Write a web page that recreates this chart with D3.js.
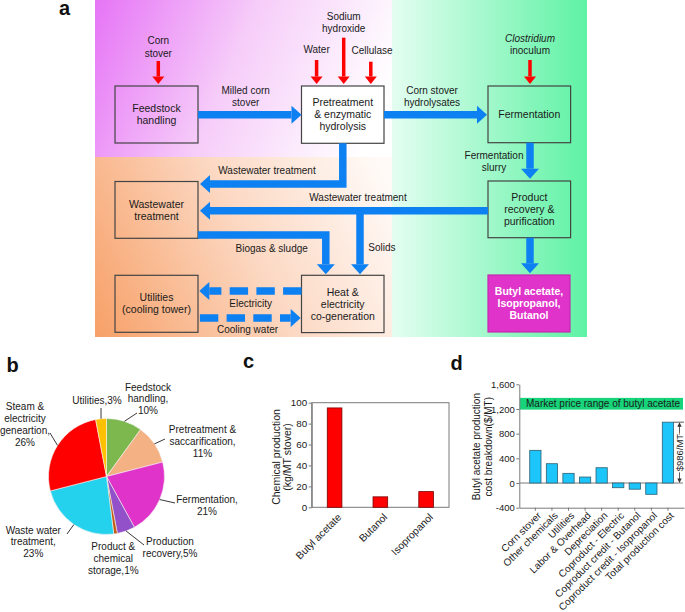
<!DOCTYPE html>
<html>
<head>
<meta charset="utf-8">
<script src="https://cdn.jsdelivr.net/npm/d3@7"></script>
<style>
  body { margin: 0; background: #fff; }
  svg { display: block; font-family: Arial, "Liberation Sans", sans-serif; }
</style>
</head>
<body>
<svg id="fig" width="685" height="612"></svg>
<script>
// ---- data: panel b (share of cost by area) ----
const pieNames = ["Feedstock handling", "Pretreatment & saccarification", "Fermentation",
  "Production recovery", "Product & chemical storage", "Waste water treatment",
  "Steam & electricity geneartion", "Utilities"];
const pieShares = [10, 11, 21, 5, 1, 23, 26, 3];
const pieLabelLines = [
  ["Feedstock", "handling,", "10%"],
  ["Pretreatment &", "saccarification,", "11%"],
  ["Fermentation,", "21%"],
  ["Production", "recovery,5%"],
  ["Product &", "chemical", "storage,1%"],
  ["Waste water", "treatment,", "23%"],
  ["Steam &", "electricity", "geneartion,", "26%"],
  ["Utilities,3%"]
];

// ---- data: panel c (chemical production, kg/MT stover) ----
const chemNames = ["Butyl acetate", "Butanol", "Isopropanol"];
const chemValues = [95, 10, 15];
const chemTicks = [0, 20, 40, 60, 80, 100];

// ---- data: panel d (cost breakdown, $/MT) ----
const costNames = ["Corn stover", "Other chemicals", "Utilities", "Labor & Overhead", "Depreciation",
  "Coproduct - Electric", "Coproduct credit - Butanol", "Coproduct credit - Isopropanol", "Total production cost"];
const costValues = [530, 313, 157, 97, 248, -76, -100, -183, 986];
const costTicks = [-400, 0, 400, 800, 1200, 1600];
const marketRange = [1190, 1380];
const totalLabel = "$986/MT";

const INK = "#1a1a1a";
const AXIS = "#7a7a7a";
const BLUE = "#0d80f2";
const RED = "#ff0000";

const svg = d3.select("#fig");
const defs = svg.append("defs");

function linGrad(id, x1, y1, x2, y2, stops) {
  const g = defs.append("linearGradient").attr("id", id)
    .attr("gradientUnits", "userSpaceOnUse")
    .attr("x1", x1).attr("y1", y1).attr("x2", x2).attr("y2", y2);
  stops.forEach(s => g.append("stop").attr("offset", s[0]).attr("stop-color", s[1]));
}

// multi-line centred text, y0 = centre of first line
function lines(g, x, y0, arr, opt = {}) {
  const lh = opt.lh || 12;
  const t = g.append("text")
    .attr("text-anchor", opt.anchor || "middle")
    .attr("font-size", opt.size || 10)
    .attr("fill", opt.color || INK)
    .attr("font-weight", opt.bold ? "bold" : null);
  arr.forEach((s, i) => {
    t.append("tspan").attr("x", x).attr("y", y0 + i * lh).attr("dy", "0.35em")
      .attr("font-style", opt.italicFirst && i === 0 ? "italic" : null)
      .text(s);
  });
  return t;
}

function panelLetter(x, y, s) {
  svg.append("text").attr("x", x).attr("y", y).attr("font-size", 20)
    .attr("font-weight", "bold").attr("fill", "#111").text(s);
}

// ================= panel a : process diagram =================
linGrad("gPink", 95, 0, 375, 120, [[0, "#e674f6"], [0.5, "#f6cdf9"], [1, "#ffffff"]]);
linGrad("gOrange", 95, 337, 392, 190, [[0, "#f7a067"], [0.55, "#fcd9c4"], [1, "#fffaf7"]]);
linGrad("gGreen", 392, 0, 587, 0, [[0, "#e4fef1"], [1, "#5ef2a4"]]);

const pa = svg.append("g");
pa.append("rect").attr("x", 95).attr("y", 0).attr("width", 297).attr("height", 157).attr("fill", "url(#gPink)");
pa.append("rect").attr("x", 95).attr("y", 157).attr("width", 297).attr("height", 180).attr("fill", "url(#gOrange)");
pa.append("rect").attr("x", 392).attr("y", 0).attr("width", 195).attr("height", 337).attr("fill", "url(#gGreen)");

const boxes = [
  { x: 115, y: 86, w: 83, h: 57, lines: ["Feedstock", "handling"] },
  { x: 301.5, y: 86, w: 82.5, h: 57.3, lines: ["Pretreatment", "& enzymatic", "hydrolysis"], fill: "#fff" },
  { x: 488, y: 86, w: 82.6, h: 56.7, lines: ["Fermentation"] },
  { x: 115, y: 181.5, w: 83, h: 56.8, lines: ["Wastewater", "treatment"] },
  { x: 488, y: 181, w: 82.6, h: 56.7, lines: ["Product", "recovery &", "purification"] },
  { x: 115, y: 275.3, w: 83, h: 57, lines: ["Utilities", "(cooling tower)"] },
  { x: 301.5, y: 275.3, w: 82.5, h: 57.3, lines: ["Heat &", "electricity", "co-generation"] },
  { x: 488, y: 275, w: 82, h: 57, lines: ["Butyl acetate,", "Isopropanol,", "Butanol"], fill: "#e033c9", color: "#fff", bold: true, stroke: "#c42aae" }
];

boxes.forEach(b => {
  pa.append("rect").attr("x", b.x).attr("y", b.y).attr("width", b.w).attr("height", b.h)
    .attr("fill", b.fill || "none").attr("stroke", b.stroke || "#444").attr("stroke-width", 1.2);
  const cy = b.y + b.h / 2 - (b.lines.length - 1) * 6;
  lines(pa, b.x + b.w / 2, cy, b.lines, { color: b.color, bold: b.bold, size: 10.5 });
});

// arrow from a list of points, last point is the tip
function arrow(g, pts, o) {
  const n = pts.length;
  const [tx, ty] = pts[n - 1], [px, py] = pts[n - 2];
  const len = Math.hypot(tx - px, ty - py);
  const ux = (tx - px) / len, uy = (ty - py) / len;
  const bx = tx - ux * o.head, by = ty - uy * o.head;
  const shaft = pts.slice(0, n - 1).concat([[bx, by]]);
  const p = g.append("path").attr("d", d3.line()(shaft))
    .attr("fill", "none").attr("stroke", o.color).attr("stroke-width", o.w)
    .attr("stroke-linejoin", "miter").attr("stroke-linecap", "butt");
  if (o.dash) p.attr("stroke-dasharray", o.dash).attr("stroke-dashoffset", o.offset || 0);
  g.append("path")
    .attr("d", d3.line()([[tx, ty], [bx - uy * o.half, by + ux * o.half], [bx + uy * o.half, by - ux * o.half]]) + "Z")
    .attr("fill", o.color);
}

// red input arrows
const redArrows = [
  { x: 158.3, y0: 61, label: ["Corn", "stover"], ly: 40.7 },
  { x: 316.6, y0: 60, label: ["Water"], ly: 49.7 },
  { x: 343.7, y0: 37.7, label: ["Sodium", "hydroxide"], ly: 16 },
  { x: 370.8, y0: 61.7, label: ["Cellulase"], ly: 50.7, lx: 372 },
  { x: 530, y0: 60, label: ["Clostridium", "inoculum"], ly: 38, italic: true }
];
redArrows.forEach(a => {
  arrow(pa, [[a.x, a.y0], [a.x, 84]], { color: RED, w: 3.5, head: 7.5, half: 6 });
  lines(pa, a.lx || a.x, a.ly, a.label, { italicFirst: a.italic, lh: 12.3 });
});

// blue flows
const blueOpt = { color: BLUE, w: 7.5, head: 10, half: 9 };
const flows = [
  { pts: [[198, 114.7], [301.5, 114.7]] },
  { pts: [[384, 114.7], [487, 114.7]] },
  { pts: [[530, 142.7], [530, 178.7]] },
  { pts: [[342.8, 143.3], [342.8, 184], [200, 184]] },
  { pts: [[488, 210.8], [200, 210.8]] },
  { pts: [[360, 210.8], [360, 274.3]] },
  { pts: [[198, 235], [325.8, 235], [325.8, 274.3]] },
  { pts: [[530, 237.7], [530, 273.3]] },
  { pts: [[301.5, 291], [199.3, 291]], dash: "18.4,8.3" },
  { pts: [[198, 318], [300.7, 318]], dash: "18.4,8.3", offset: 7.7, reverse: true }
];
flows.forEach(f => {
  if (f.reverse) {
    // dash pattern measured from the head end
    const [a, b] = f.pts;
    const base = [b[0] - 10, b[1]];
    pa.append("path").attr("d", d3.line()([base, a])).attr("fill", "none")
      .attr("stroke", BLUE).attr("stroke-width", blueOpt.w)
      .attr("stroke-dasharray", f.dash).attr("stroke-dashoffset", f.offset);
    pa.append("path").attr("d", d3.line()([b, [base[0], b[1] - 9], [base[0], b[1] + 9]]) + "Z").attr("fill", BLUE);
  } else {
    arrow(pa, f.pts, Object.assign({}, blueOpt, { dash: f.dash }));
  }
});

const flowLabels = [
  { x: 245.7, y: 90, t: ["Milled corn", "stover"] },
  { x: 432, y: 90, t: ["Corn stover", "hydrolysates"] },
  { x: 494, y: 155, t: ["Fermentation", "slurry"] },
  { x: 267, y: 170, t: ["Wastewater treatment"] },
  { x: 358, y: 197.7, t: ["Wastewater treatment"] },
  { x: 271.7, y: 248.3, t: ["Biogas & sludge"] },
  { x: 368.3, y: 247.3, t: ["Solids"], anchor: "start" },
  { x: 250.7, y: 303.3, t: ["Electricity"] },
  { x: 247.5, y: 329.3, t: ["Cooling water"] }
];
flowLabels.forEach(l => lines(pa, l.x, l.y, l.t, { anchor: l.anchor }));

panelLetter(59, 15, "a");

// ================= panel b : pie =================
panelLetter(6.5, 372, "b");
const pieColors = ["#7cb84e", "#f4b183", "#e033c9", "#9351c9", "#c55a11", "#25d2ee", "#ff0000", "#ffc000"];
const pcx = 106.5, pcy = 476.5, pr = 58;
const pieData = d3.pie().sort(null).value(d => d.v)(pieNames.map((n, i) => ({ n, v: pieShares[i] })));
const arc = d3.arc().innerRadius(0).outerRadius(pr);
const pb = svg.append("g").attr("transform", `translate(${pcx},${pcy})`);
pb.selectAll("path.slice").data(pieData).join("path").attr("class", "slice")
  .attr("d", arc).attr("fill", (d, i) => pieColors[i])
  .attr("stroke", "#f4f4f4").attr("stroke-width", 0.6);

// label placement (layout only)
const pieLabelPos = [
  { x: 148, y: 387, lx: 137, ly: 413 },
  { x: 202.5, y: 429.3, lx: 165, ly: 439 },
  { x: 207, y: 499.3, lx: 175, ly: 503 },
  { x: 170, y: 541.7, lx: 144, ly: 545 },
  { x: 113.3, y: 546.7 },
  { x: 33.3, y: 530, lx: 67, ly: 534 },
  { x: 25, y: 406.7, lx: 50, ly: 433 },
  { x: 97, y: 400.7, lx: 101, ly: 408 }
];
pieData.forEach((d, i) => {
  const p = pieLabelPos[i];
  const a = (d.startAngle + d.endAngle) / 2;
  if (p.lx !== undefined) {
    svg.append("line")
      .attr("x1", pcx + pr * Math.sin(a)).attr("y1", pcy - pr * Math.cos(a))
      .attr("x2", p.lx).attr("y2", p.ly)
      .attr("stroke", "#222").attr("stroke-width", 0.9);
  }
  lines(svg, p.x, p.y, pieLabelLines[i], { size: 10, lh: 11.9 });
});

// ================= panel c : bars =================
panelLetter(243, 368, "c");
const cx0 = 311.7, cx1 = 449, cyTop = 402.7, cyBot = 507.3;
const xc = d3.scaleBand().domain(chemNames).range([cx0, cx1]).paddingInner(0.68).paddingOuter(0.34);
const yc = d3.scaleLinear().domain([0, 100]).range([cyBot, cyTop]);
const pc = svg.append("g");
pc.append("rect").attr("x", cx0).attr("y", cyTop).attr("width", cx1 - cx0).attr("height", cyBot - cyTop)
  .attr("fill", "none").attr("stroke", AXIS).attr("stroke-width", 1);
pc.selectAll("rect.bar").data(chemValues).join("rect").attr("class", "bar")
  .attr("x", (d, i) => xc(chemNames[i])).attr("width", xc.bandwidth())
  .attr("y", d => yc(d)).attr("height", d => yc(0) - yc(d))
  .attr("fill", RED).attr("stroke", "#7a0000").attr("stroke-width", 0.8);
const ayc = pc.append("g").attr("transform", `translate(${cx0},0)`)
  .call(d3.axisLeft(yc).tickValues(chemTicks).tickSize(3).tickSizeOuter(0).tickPadding(1.5));
ayc.select(".domain").attr("stroke", AXIS);
ayc.selectAll(".tick line").attr("stroke", AXIS);
ayc.selectAll("text").attr("font-size", 9.8).attr("fill", INK).attr("font-family", null);
pc.selectAll("text.xl").data(chemNames).join("text").attr("class", "xl")
  .attr("transform", d => `translate(${xc(d) + xc.bandwidth() / 2 + 5},${cyBot + 8}) rotate(-45)`)
  .attr("text-anchor", "end").attr("dy", "0.35em").attr("font-size", 10.3).attr("fill", INK).text(d => d);
lines(pc.append("g").attr("transform", `translate(282,457) rotate(-90)`), 0, -5.5,
  ["Chemical production", "(kg/MT stover)"], { size: 10.5, lh: 11 });

// ================= panel d : cost breakdown =================
panelLetter(450.5, 370, "d");
const dx0 = 519.3, dx1 = 684;
const xd = d3.scaleBand().domain(costNames).range([dx0, dx1]).paddingInner(0.32).paddingOuter(0.63);
const yd = d3.scaleLinear().domain([-400, 1600]).range([507.7, 384.3]);
const pd = svg.append("g");
pd.append("rect").attr("x", dx0 + 0.5).attr("y", yd(marketRange[1])).attr("width", 683 - dx0 - 0.5)
  .attr("height", yd(marketRange[0]) - yd(marketRange[1])).attr("fill", "#17d47b");
pd.append("text").attr("x", 526).attr("y", yd((marketRange[0] + marketRange[1]) / 2)).attr("dy", "0.35em")
  .attr("font-size", 10).attr("fill", INK).text("Market price range of butyl acetate");
pd.append("line").attr("x1", dx0).attr("x2", 683).attr("y1", yd(0)).attr("y2", yd(0))
  .attr("stroke", AXIS).attr("stroke-width", 1);
pd.selectAll("rect.bar").data(costValues).join("rect").attr("class", "bar")
  .attr("x", (d, i) => xd(costNames[i])).attr("width", xd.bandwidth())
  .attr("y", d => yd(Math.max(0, d))).attr("height", d => Math.abs(yd(d) - yd(0)))
  .attr("fill", "#1cc6fa").attr("stroke", "#2f5f74").attr("stroke-width", 0.8);
const fmt = d => d3.format(",")(d).replace("\u2212", "-");
const ayd = pd.append("g").attr("transform", `translate(${dx0},0)`)
  .call(d3.axisLeft(yd).tickValues(costTicks).tickFormat(fmt).tickSize(3).tickSizeOuter(0).tickPadding(1.5));
const axd = pd.append("g").attr("transform", `translate(0,${yd(-400)})`)
  .call(d3.axisBottom(xd).tickSize(3).tickSizeOuter(0).tickFormat(""));
[ayd, axd].forEach(a => {
  a.select(".domain").attr("stroke", AXIS);
  a.selectAll(".tick line").attr("stroke", AXIS);
});
ayd.selectAll("text").attr("font-size", 9.5).attr("fill", INK).attr("font-family", null);
pd.selectAll("text.xl").data(costNames).join("text").attr("class", "xl")
  .attr("transform", d => `translate(${xd(d) + xd.bandwidth() / 2 + 4},${yd(-400) + 6}) rotate(-45)`)
  .attr("text-anchor", "end").attr("dy", "0.35em").attr("font-size", 10).attr("fill", INK).text(d => d);
lines(pd.append("g").attr("transform", `translate(482.5,446.7) rotate(-90)`), 0, -5.8,
  ["Butyl acetate production", "cost breakdown($/MT)"], { size: 10, lh: 11.6 });

// total cost annotation
const total = costValues[costValues.length - 1];
const lastName = costNames[costNames.length - 1];
const ax = 679.5, xr = xd(lastName) + xd.bandwidth();
pd.append("line").attr("x1", xr).attr("x2", 684).attr("y1", yd(total)).attr("y2", yd(total))
  .attr("stroke", "#333").attr("stroke-width", 0.8);
pd.append("line").attr("x1", ax).attr("x2", ax).attr("y1", yd(total) + 2).attr("y2", yd(0) - 2)
  .attr("stroke", "#333").attr("stroke-width", 0.8);
pd.append("path").attr("d", `M${ax},${yd(total)}l-2.2,4.5h4.4Z M${ax},${yd(0)}l-2.2,-4.5h4.4Z`).attr("fill", "#333");
pd.append("text").attr("transform", `translate(${ax},${(yd(total) + yd(0)) / 2}) rotate(-90)`)
  .attr("text-anchor", "middle").attr("dy", "0.35em").attr("font-size", 9.5).attr("fill", INK)
  .attr("stroke", "#fff").attr("stroke-width", 3).attr("paint-order", "stroke").text(totalLabel);
</script>
</body>
</html>
